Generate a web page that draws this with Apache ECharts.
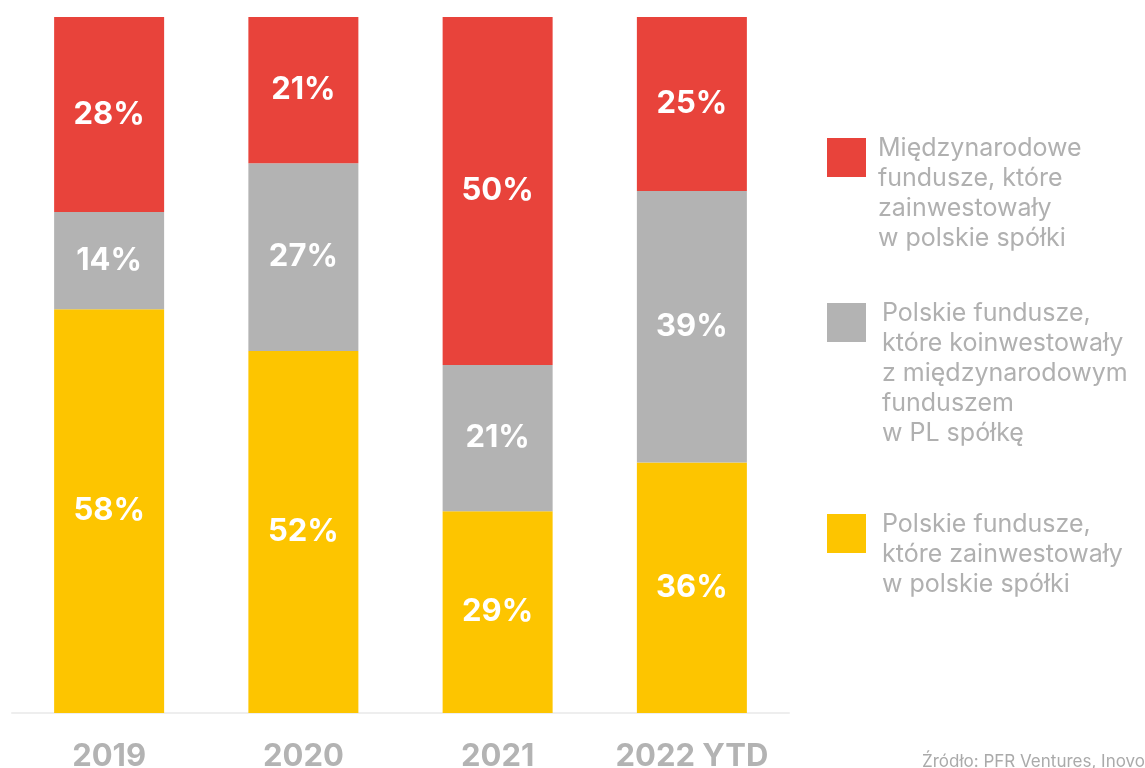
<!DOCTYPE html>
<html>
<head>
<meta charset="utf-8">
<script src="https://cdn.jsdelivr.net/npm/echarts@6/dist/echarts.min.js"></script>
<style>
html,body{margin:0;padding:0;background:#fff;}
#c{width:1145px;height:768px;}
</style>
</head>
<body>
<div id="c"></div>
<script>
const categories = ['2019', '2020', '2021', '2022 YTD'];
const seriesNames = [
  'Polskie fundusze,\nktóre zainwestowały\nw polskie spółki',
  'Polskie fundusze,\nktóre koinwestowały\nz międzynarodowym\nfunduszem\nw PL spółkę',
  'Międzynarodowe\nfundusze, które\nzainwestowały\nw polskie spółki'
];
const polishValues = [58, 52, 29, 36];
const coinvestValues = [14, 27, 21, 39];
const internationalValues = [28, 21, 50, 25];
const sourceText = 'Źródło: PFR Ventures, Inovo';

const colors = ['#FDC500', '#B3B3B3', '#E8433B'];
const FONT = 'Inter, "Open Sans", sans-serif';
const LINE_H = 30;
const ICON = 39;
const TEXT_OFFSET = -5; // first text line top relative to icon top

const chart = echarts.init(document.getElementById('c'), null, {renderer: 'canvas'});

function barSeries(name, data, color) {
  return {
    name: name,
    type: 'bar',
    stack: 'total',
    data: data,
    barWidth: 110,
    itemStyle: {color: color},
    label: {
      show: true,
      position: 'inside',
      formatter: '{c}%',
      color: '#ffffff',
      fontFamily: FONT,
      fontWeight: 'bold',
      fontSize: 31
    },
    emphasis: {disabled: true}
  };
}

// legend item: a spacer line of height g shifts the centred text block so that
// its first line starts TEXT_OFFSET px from the icon top
function legendItem(name, iconTop, padLeft) {
  const lines = name.split('\n');
  const n = lines.length;
  const g = 2 * (TEXT_OFFSET - ICON / 2 + n * LINE_H / 2);
  const groupTop = Math.min(0, ICON / 2 - (g + n * LINE_H) / 2);
  return {
    data: [name],
    left: 827,
    top: iconTop + groupTop,
    orient: 'vertical',
    icon: 'rect',
    itemWidth: ICON,
    itemHeight: ICON,
    padding: 0,
    formatter: function (v) {
      return '{g| }\n' + v.split('\n').map(function (l) { return '{t|' + l + '}'; }).join('\n');
    },
    textStyle: {
      color: '#B0B0B0',
      fontFamily: FONT,
      fontSize: 25,
      padding: [0, 0, 0, padLeft],
      rich: {
        g: {fontSize: 1, lineHeight: g, height: g},
        t: {color: '#B0B0B0', fontFamily: FONT, fontSize: 25, lineHeight: LINE_H}
      }
    }
  };
}

chart.setOption({
  animation: false,
  backgroundColor: '#ffffff',
  grid: {left: 12, right: 356, top: 17, bottom: 55, containLabel: false, outerBoundsMode: 'none'},
  xAxis: {
    type: 'category',
    data: categories,
    axisLine: {show: true, lineStyle: {color: '#EEEEEE', width: 2}},
    axisTick: {show: false},
    axisLabel: {
      interval: 0,
      hideOverlap: false,
      color: '#B3B3B3',
      fontFamily: FONT,
      fontWeight: 'bold',
      fontSize: 31,
      margin: 28
    }
  },
  yAxis: {
    type: 'value',
    min: 0,
    max: 100,
    show: false,
    splitLine: {show: false}
  },
  legend: [
    legendItem(seriesNames[2], 138, 7),
    legendItem(seriesNames[1], 303, 11),
    legendItem(seriesNames[0], 514, 11)
  ],
  title: {
    text: sourceText,
    right: 0,
    bottom: -2,
    padding: 0,
    textStyle: {color: '#AAAAAA', fontFamily: FONT, fontSize: 17, fontWeight: 'normal'}
  },
  series: [
    barSeries(seriesNames[0], polishValues, colors[0]),
    barSeries(seriesNames[1], coinvestValues, colors[1]),
    barSeries(seriesNames[2], internationalValues, colors[2])
  ]
});
</script>
</body>
</html>
